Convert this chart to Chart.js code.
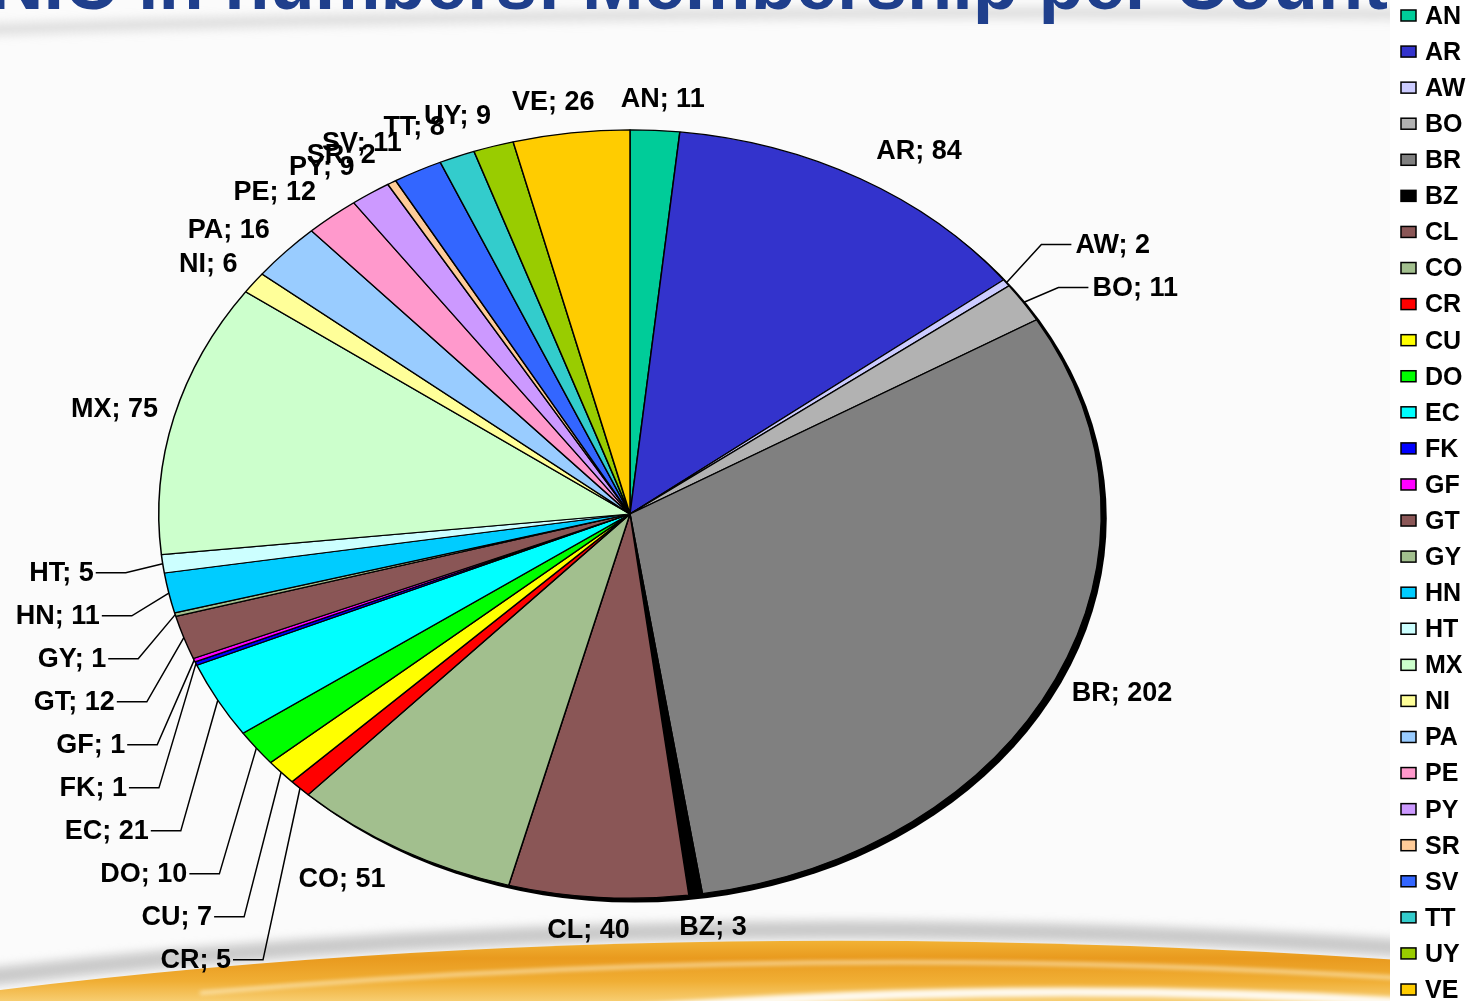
<!DOCTYPE html>
<html>
<head>
<meta charset="utf-8">
<script src="https://cdn.jsdelivr.net/npm/chart.js@4/dist/chart.umd.min.js"></script>
<style>
  html, body { margin: 0; padding: 0; background: #ffffff; overflow: hidden; }
  canvas { display: block; }
</style>
</head>
<body>
<canvas id="c" width="1479" height="1001"></canvas>
<script>
// ---- data ----
const categories = ['AN','AR','AW','BO','BR','BZ','CL','CO','CR','CU','DO','EC','FK','GF','GT','GY','HN','HT','MX','NI','PA','PE','PY','SR','SV','TT','UY','VE'];
const members    = [11, 84, 2, 11, 202, 3, 40, 51, 5, 7, 10, 21, 1, 1, 12, 1, 11, 5, 75, 6, 16, 12, 9, 2, 11, 8, 9, 26];
const sliceColors = ['#00CC99','#3333CC','#CCCCFF','#B2B2B2','#808080','#000000','#8A5656','#A2BF8E','#FF0000','#FFFF00','#00FF00','#00FFFF','#0000FF','#FF00FF','#8A5656','#A2BF8E','#00CCFF','#CCFFFF','#CCFFCC','#FFFF99','#99CCFF','#FF99CC','#CC99FF','#FFCC99','#3366FF','#33CCCC','#99CC00','#FFCC00'];
const leaderLeft  = ['HT','HN','GY','GT','GF','FK','EC','DO','CU','CR'];
const leaderRight = ['AW','BO'];
const titleText = 'NIC in numbers: Membership per Country';

const FONT = '"Liberation Sans", Arial, sans-serif';
const SQUASH = 384 / 471;
const PANEL_X = 1390;

// background, title and legend panel
const bgPlugin = {
  id: 'bg',
  beforeDraw(chart) {
    const ctx = chart.ctx;
    const W = chart.width, H = chart.height;
    ctx.save();
    ctx.fillStyle = '#fbfbfb';
    ctx.fillRect(0, 0, W, H);
    // top grey swoosh
    ctx.filter = 'blur(5px)';
    ctx.strokeStyle = 'rgba(190,190,190,0.45)';
    ctx.lineWidth = 12;
    ctx.beginPath();
    ctx.moveTo(-20, 30);
    ctx.quadraticCurveTo(600, 8, 1400, 14);
    ctx.stroke();
    // bottom grey shadow
    ctx.strokeStyle = 'rgba(170,170,170,0.6)';
    ctx.lineWidth = 18;
    ctx.beginPath();
    ctx.moveTo(-20, 978);
    ctx.quadraticCurveTo(650, 900, 1400, 948);
    ctx.stroke();
    ctx.filter = 'none';
    // orange band
    const g = ctx.createLinearGradient(0, 935, 0, 1001);
    g.addColorStop(0, '#F4BA3C');
    g.addColorStop(0.35, '#E99A1E');
    g.addColorStop(0.7, '#F0AE34');
    g.addColorStop(1, '#F7CD70');
    ctx.fillStyle = g;
    ctx.beginPath();
    ctx.moveTo(0, 1001);
    ctx.lineTo(0, 990);
    ctx.quadraticCurveTo(650, 910, 1400, 960);
    ctx.lineTo(1400, 1001);
    ctx.closePath();
    ctx.fill();
    // light streaks
    ctx.filter = 'blur(2px)';
    ctx.strokeStyle = 'rgba(255,245,215,0.8)';
    ctx.lineWidth = 3;
    ctx.beginPath();
    ctx.moveTo(200, 993);
    ctx.quadraticCurveTo(800, 940, 1400, 978);
    ctx.stroke();
    ctx.strokeStyle = 'rgba(255,255,255,0.9)';
    ctx.lineWidth = 9;
    ctx.beginPath();
    ctx.moveTo(600, 1012);
    ctx.quadraticCurveTo(1000, 978, 1400, 1002);
    ctx.stroke();
    ctx.filter = 'none';
    // title
    ctx.fillStyle = '#1F3F8C';
    ctx.font = 'bold 74px ' + FONT;
    ctx.textAlign = 'left';
    ctx.textBaseline = 'alphabetic';
    ctx.fillText(titleText, -10, 9);
    // legend panel
    ctx.fillStyle = '#ffffff';
    ctx.fillRect(PANEL_X, 0, W - PANEL_X, H);
    ctx.restore();
  }
};

// squash the pie into an ellipse and add the dark 3D rim
const squashPlugin = {
  id: 'squash',
  beforeDatasetsDraw(chart) {
    const ctx = chart.ctx;
    const arc = chart.getDatasetMeta(0).data[0];
    const cx = arc.x, cy = arc.y, R = arc.outerRadius;
    ctx.save();
    ctx.fillStyle = '#000000';
    ctx.beginPath();
    ctx.ellipse(cx + 5, cy + 4, R + 0.5, (R + 0.5) * SQUASH, 0, 0, Math.PI * 2);
    ctx.fill();
    ctx.translate(cx, cy);
    ctx.scale(1, SQUASH);
    ctx.translate(-cx, -cy);
  },
  afterDatasetsDraw(chart) {
    chart.ctx.restore();
  }
};

// data labels and legend
const labelPlugin = {
  id: 'labels',
  afterDraw(chart) {
    const ctx = chart.ctx;
    const meta = chart.getDatasetMeta(0);
    ctx.save();
    ctx.font = 'bold 27px ' + FONT;
    ctx.fillStyle = '#000';
    ctx.strokeStyle = '#000';
    ctx.lineWidth = 1.5;
    ctx.textBaseline = 'middle';

    const pts = meta.data.map((arc, i) => {
      const mid = (arc.startAngle + arc.endAngle) / 2;
      const dx = Math.cos(mid), dy = Math.sin(mid);
      return {
        i, dx, dy,
        x: arc.x + arc.outerRadius * dx,
        y: arc.y + arc.outerRadius * SQUASH * dy,
        text: categories[i] + '; ' + members[i]
      };
    });

    // plain outside labels
    pts.forEach(p => {
      const c = categories[p.i];
      if (leaderLeft.includes(c) || leaderRight.includes(c)) return;
      const w = ctx.measureText(p.text).width;
      const k = Math.max(-1, Math.min(1, 2.5 * p.dx));
      const lx = p.x + k * (w / 2 + 16);
      const ly = p.y + p.dy * 32;
      ctx.textAlign = 'center';
      ctx.fillText(p.text, lx, ly + 1);
    });

    // left leader labels stacked downwards
    const left = pts.filter(p => leaderLeft.includes(categories[p.i])).sort((a, b) => a.y - b.y);
    let prev = -Infinity;
    left.forEach(p => {
      const y = Math.max(p.y + 9, prev + 43);
      prev = y;
      const lineEnd = p.x - 37;
      const lineStart = lineEnd - 30;
      ctx.beginPath();
      ctx.moveTo(lineStart, y);
      ctx.lineTo(lineEnd, y);
      ctx.lineTo(p.x, p.y);
      ctx.stroke();
      ctx.textAlign = 'right';
      ctx.fillText(p.text, lineStart - 2, y + 1);
    });

    // right leader labels stacked upwards
    const right = pts.filter(p => leaderRight.includes(categories[p.i])).sort((a, b) => b.y - a.y);
    prev = Infinity;
    right.forEach(p => {
      const y = Math.min(p.y - 15, prev - 43);
      prev = y;
      const lineStart = p.x + 35;
      const lineEnd = lineStart + 30;
      ctx.beginPath();
      ctx.moveTo(p.x, p.y);
      ctx.lineTo(lineStart, y);
      ctx.lineTo(lineEnd, y);
      ctx.stroke();
      ctx.textAlign = 'left';
      ctx.fillText(p.text, lineEnd + 4, y + 1);
    });

    // legend
    ctx.font = 'bold 25px ' + FONT;
    const step = (990 - 16) / (categories.length - 1);
    categories.forEach((c, i) => {
      const y = 16 + i * step;
      ctx.fillStyle = sliceColors[i];
      ctx.fillRect(1401, y - 6, 15, 11);
      ctx.lineWidth = 1.5;
      ctx.strokeRect(1401, y - 6, 15, 11);
      ctx.fillStyle = '#000';
      ctx.textAlign = 'left';
      ctx.fillText(c, 1425, y + 1);
    });
    ctx.restore();
  }
};

new Chart(document.getElementById('c'), {
  type: 'pie',
  data: {
    labels: categories,
    datasets: [{
      data: members,
      backgroundColor: sliceColors,
      borderColor: '#000000',
      borderWidth: 1.5,
      hoverOffset: 0
    }]
  },
  options: {
    responsive: false,
    animation: false,
    events: [],
    layout: { padding: { left: 158, right: 377, top: 42, bottom: 15 } },
    plugins: { legend: { display: false }, tooltip: { enabled: false } }
  },
  plugins: [bgPlugin, squashPlugin, labelPlugin]
});
</script>
</body>
</html>
